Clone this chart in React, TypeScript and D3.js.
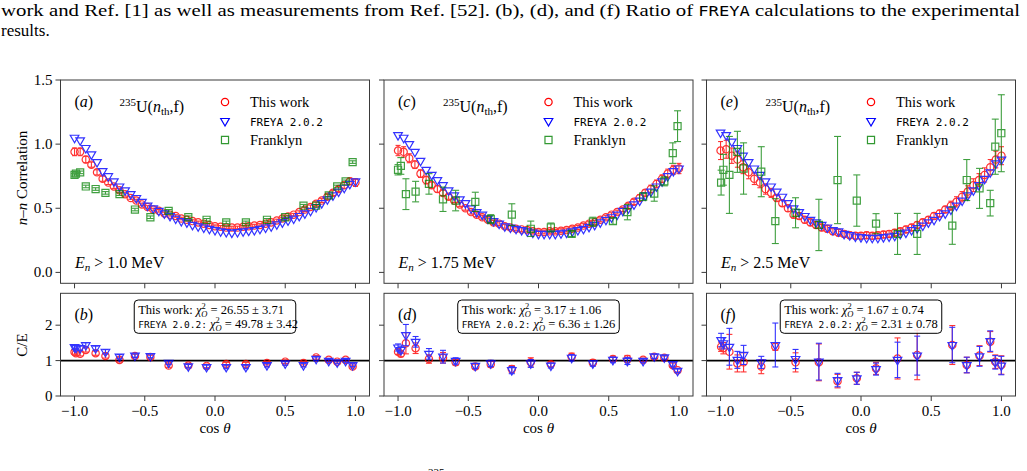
import React from 'react';
import * as d3 from 'd3';

// angular bins (cos theta) of the "This work" / FREYA points
const cosGrid = [-1.0, -0.96, -0.92, -0.88, -0.84, -0.8, -0.76, -0.72, -0.68, -0.64, -0.6, -0.56, -0.52, -0.48, -0.44, -0.4, -0.36, -0.32, -0.28, -0.24, -0.2, -0.16, -0.12, -0.08, -0.04, 0.0, 0.04, 0.08, 0.12, 0.16, 0.2, 0.24, 0.28, 0.32, 0.36, 0.4, 0.44, 0.48, 0.52, 0.56, 0.6, 0.64, 0.68, 0.72, 0.76, 0.8, 0.84, 0.88, 0.92, 0.96, 1.0];

// (a) En > 1.0 MeV
const workA = [0.94, 0.94, 0.88, 0.84, 0.78, 0.73, 0.70, 0.67, 0.64, 0.61, 0.58, 0.56, 0.53, 0.51, 0.49, 0.48, 0.46, 0.45, 0.44, 0.42, 0.41, 0.40, 0.39, 0.38, 0.37, 0.36, 0.355, 0.35, 0.35, 0.35, 0.355, 0.36, 0.365, 0.37, 0.38, 0.39, 0.405, 0.42, 0.435, 0.45, 0.47, 0.49, 0.51, 0.535, 0.56, 0.59, 0.62, 0.65, 0.68, 0.71, 0.70];
const workErrA = [0.03, 0.03, 0.025, 0.02, 0.02, 0.02, 0.015, 0.015, 0.015, 0.015, 0.01, 0.01, 0.01, 0.01, 0.01, 0.01, 0.01, 0.01, 0.01, 0.01, 0.01, 0.01, 0.01, 0.01, 0.01, 0.01, 0.01, 0.01, 0.01, 0.01, 0.01, 0.01, 0.01, 0.01, 0.01, 0.01, 0.01, 0.01, 0.01, 0.01, 0.01, 0.015, 0.015, 0.015, 0.015, 0.02, 0.02, 0.02, 0.025, 0.025, 0.03];
const freyaA = [1.05, 1.03, 0.97, 0.92, 0.86, 0.79, 0.75, 0.71, 0.67, 0.64, 0.61, 0.58, 0.55, 0.52, 0.50, 0.48, 0.46, 0.44, 0.42, 0.40, 0.39, 0.37, 0.36, 0.35, 0.34, 0.33, 0.32, 0.315, 0.31, 0.315, 0.32, 0.325, 0.33, 0.34, 0.35, 0.36, 0.375, 0.39, 0.405, 0.42, 0.44, 0.46, 0.48, 0.51, 0.54, 0.57, 0.60, 0.63, 0.66, 0.69, 0.71];
const franklynCosA = [-1.0, -0.99, -0.96, -0.92, -0.85, -0.78, -0.68, -0.57, -0.46, -0.33, -0.19, -0.06, 0.08, 0.22, 0.37, 0.5, 0.63, 0.72, 0.81, 0.87, 0.93, 0.98];
const franklynA = [0.76, 0.77, 0.78, 0.67, 0.65, 0.62, 0.61, 0.49, 0.43, 0.48, 0.43, 0.41, 0.39, 0.39, 0.41, 0.43, 0.52, 0.52, 0.60, 0.67, 0.71, 0.86];
const franklynErrA = [0.01, 0.01, 0.01, 0.01, 0.01, 0.01, 0.01, 0.01, 0.01, 0.01, 0.01, 0.01, 0.01, 0.01, 0.01, 0.01, 0.01, 0.01, 0.01, 0.01, 0.01, 0.01];

// (c) En > 1.75 MeV
const workC = [0.95, 0.94, 0.89, 0.84, 0.77, 0.72, 0.68, 0.65, 0.62, 0.59, 0.56, 0.53, 0.50, 0.47, 0.45, 0.43, 0.41, 0.39, 0.38, 0.36, 0.35, 0.34, 0.335, 0.33, 0.32, 0.315, 0.315, 0.32, 0.32, 0.325, 0.33, 0.34, 0.35, 0.365, 0.38, 0.39, 0.41, 0.43, 0.45, 0.47, 0.49, 0.52, 0.55, 0.58, 0.62, 0.65, 0.69, 0.73, 0.77, 0.80, 0.81];
const workErrC = [0.04, 0.04, 0.035, 0.03, 0.03, 0.03, 0.025, 0.025, 0.02, 0.02, 0.015, 0.015, 0.015, 0.015, 0.015, 0.015, 0.015, 0.015, 0.015, 0.015, 0.015, 0.015, 0.015, 0.015, 0.015, 0.015, 0.015, 0.015, 0.015, 0.015, 0.015, 0.015, 0.015, 0.015, 0.015, 0.015, 0.015, 0.015, 0.015, 0.015, 0.015, 0.02, 0.02, 0.025, 0.025, 0.03, 0.03, 0.03, 0.035, 0.035, 0.04];
const freyaC = [1.07, 1.05, 1.00, 0.94, 0.87, 0.80, 0.76, 0.72, 0.68, 0.64, 0.60, 0.57, 0.54, 0.50, 0.47, 0.45, 0.42, 0.40, 0.38, 0.36, 0.35, 0.34, 0.33, 0.32, 0.31, 0.30, 0.30, 0.30, 0.30, 0.305, 0.31, 0.32, 0.33, 0.34, 0.355, 0.37, 0.39, 0.41, 0.43, 0.45, 0.48, 0.50, 0.53, 0.56, 0.60, 0.63, 0.67, 0.71, 0.75, 0.79, 0.81];
const franklynCosC = [-1.0, -0.98, -0.944, -0.875, -0.78, -0.68, -0.59, -0.45, -0.34, -0.19, -0.055, 0.088, 0.236, 0.387, 0.53, 0.633, 0.745, 0.824, 0.896, 0.956, 0.99];
const franklynC = [0.80, 0.83, 0.61, 0.63, 0.69, 0.57, 0.56, 0.55, 0.415, 0.45, 0.34, 0.35, 0.30, 0.395, 0.40, 0.47, 0.59, 0.615, 0.71, 0.93, 1.14];
const franklynErrC = [0.04, 0.065, 0.12, 0.08, 0.08, 0.095, 0.08, 0.075, 0.035, 0.085, 0.06, 0.035, 0.02, 0.035, 0.025, 0.06, 0.03, 0.06, 0.035, 0.08, 0.12];

// (e) En > 2.5 MeV
const workE = [0.95, 0.96, 0.91, 0.88, 0.82, 0.78, 0.73, 0.70, 0.65, 0.62, 0.58, 0.54, 0.50, 0.45, 0.44, 0.41, 0.39, 0.37, 0.35, 0.34, 0.32, 0.31, 0.30, 0.29, 0.285, 0.285, 0.29, 0.285, 0.29, 0.295, 0.30, 0.31, 0.32, 0.335, 0.35, 0.37, 0.39, 0.41, 0.44, 0.46, 0.49, 0.52, 0.55, 0.59, 0.63, 0.68, 0.72, 0.76, 0.82, 0.88, 0.91];
const workErrE = [0.07, 0.07, 0.06, 0.06, 0.05, 0.05, 0.045, 0.04, 0.04, 0.035, 0.025, 0.025, 0.025, 0.025, 0.025, 0.025, 0.025, 0.025, 0.025, 0.025, 0.025, 0.025, 0.025, 0.025, 0.025, 0.025, 0.025, 0.025, 0.025, 0.025, 0.025, 0.025, 0.025, 0.025, 0.025, 0.025, 0.025, 0.025, 0.025, 0.025, 0.025, 0.035, 0.04, 0.04, 0.045, 0.05, 0.05, 0.055, 0.06, 0.065, 0.07];
const freyaE = [1.09, 1.07, 1.02, 0.97, 0.91, 0.86, 0.81, 0.76, 0.71, 0.67, 0.63, 0.59, 0.54, 0.50, 0.47, 0.44, 0.41, 0.39, 0.37, 0.35, 0.33, 0.32, 0.30, 0.29, 0.28, 0.275, 0.27, 0.27, 0.27, 0.275, 0.28, 0.285, 0.30, 0.31, 0.33, 0.345, 0.365, 0.39, 0.41, 0.44, 0.46, 0.49, 0.52, 0.56, 0.60, 0.64, 0.68, 0.73, 0.78, 0.85, 0.88];
const franklynCosE = [-0.996, -0.98, -0.937, -0.88, -0.836, -0.71, -0.61, -0.466, -0.3, -0.167, -0.03, 0.107, 0.26, 0.4, 0.65, 0.753, 0.844, 0.92, 0.956, 0.999];
const franklynE = [0.70, 0.80, 0.76, 0.94, 0.81, 0.785, 0.40, 0.465, 0.37, 0.72, 0.56, 0.38, 0.30, 0.30, 0.365, 0.72, 0.655, 0.54, 0.98, 1.085];
const franklynErrE = [0.097, 0.12, 0.30, 0.16, 0.20, 0.195, 0.175, 0.117, 0.20, 0.34, 0.20, 0.078, 0.16, 0.16, 0.146, 0.16, 0.156, 0.10, 0.215, 0.30];

// (b) ratios C/E
const ratioWorkB = [1.24, 1.21, 1.19, 1.30, 1.21, 1.13, 1.02, 1.13, 1.10, 0.86, 0.86, 0.85, 0.90, 0.90, 0.93, 0.97, 0.93, 1.09, 1.02, 0.97, 1.02, 0.83];
const ratioWorkErrB = [0.06, 0.06, 0.06, 0.06, 0.06, 0.06, 0.06, 0.05, 0.05, 0.05, 0.05, 0.05, 0.05, 0.05, 0.05, 0.05, 0.05, 0.05, 0.04, 0.04, 0.04, 0.04];
const ratioFreyaB = [1.38, 1.36, 1.35, 1.44, 1.35, 1.25, 1.11, 1.14, 1.13, 0.94, 0.84, 0.82, 0.82, 0.82, 0.87, 0.92, 0.87, 1.05, 0.99, 0.95, 0.99, 0.87];
const ratioFreyaErrB = [0.06, 0.06, 0.06, 0.06, 0.06, 0.06, 0.06, 0.05, 0.05, 0.05, 0.05, 0.05, 0.05, 0.05, 0.05, 0.05, 0.05, 0.05, 0.04, 0.04, 0.04, 0.04];

// (d)
const ratioWorkD = [1.25, 1.19, 1.49, 1.35, 1.045, 1.08, 0.95, 0.83, 0.90, 0.76, 0.95, 0.895, 1.11, 0.94, 1.045, 1.045, 1.02, 1.11, 1.08, 0.87, 0.73];
const ratioWorkErrD = [0.08, 0.08, 0.30, 0.15, 0.12, 0.15, 0.08, 0.07, 0.09, 0.10, 0.13, 0.07, 0.10, 0.08, 0.08, 0.10, 0.05, 0.06, 0.05, 0.06, 0.05];
const ratioFreyaD = [1.37, 1.30, 1.72, 1.53, 1.19, 1.11, 0.99, 0.85, 0.92, 0.73, 0.92, 0.86, 1.08, 0.92, 1.02, 0.99, 0.99, 1.12, 1.09, 0.90, 0.71];
const ratioFreyaErrD = [0.10, 0.09, 0.30, 0.15, 0.15, 0.18, 0.09, 0.07, 0.09, 0.10, 0.11, 0.07, 0.09, 0.08, 0.08, 0.10, 0.05, 0.06, 0.05, 0.06, 0.05];

// (f)
const ratioWorkF = [1.39, 1.35, 1.25, 0.92, 0.95, 0.83, 1.39, 0.95, 0.95, 0.42, 0.50, 0.78, 1.06, 1.16, 1.44, 0.875, 1.14, 1.53, 0.97, 0.875];
const ratioWorkErrF = [0.13, 0.16, 0.49, 0.24, 0.27, 0.20, 0.10, 0.27, 0.52, 0.19, 0.17, 0.17, 0.58, 0.70, 0.55, 0.22, 0.28, 0.29, 0.19, 0.26];
const ratioFreyaF = [1.58, 1.49, 1.39, 1.02, 1.16, 0.95, 1.44, 1.045, 0.97, 0.45, 0.50, 0.76, 1.02, 1.14, 1.44, 0.875, 1.12, 1.55, 0.95, 0.86];
const ratioFreyaErrF = [0.19, 0.16, 0.52, 0.24, 0.27, 0.17, 0.62, 0.27, 0.52, 0.19, 0.17, 0.17, 0.50, 0.55, 0.50, 0.22, 0.28, 0.29, 0.19, 0.26];

const panelTags = [['a', 'b'], ['c', 'd'], ['e', 'f']];
const energyCuts = ['1.0', '1.75', '2.5'];
const chiWork = ['26.55 \u00b1 3.71', '3.17 \u00b1 1.06', '1.67 \u00b1 0.74'];
const chiFreya = ['49.78 \u00b1 3.42', '6.36 \u00b1 1.26', '2.31 \u00b1 0.78'];
const xTicks = [-1, -0.5, 0, 0.5, 1];
const topTicks = [0, 0.5, 1, 1.5];
const botTicks = [0, 1, 2];

const SERIF = "'Liberation Serif', 'Times New Roman', serif";
const MONO = "'DejaVu Sans Mono', 'Liberation Mono', monospace";
const RED = '#ff0000';
const BLUE = '#0000ff';
const GREEN = '#008000';
const SPINE = '#3a3a3a';

const panelLefts = [60.5, 384, 706.5];
const panelW = 309;

const circlePath = d3.symbol().type(d3.symbolCircle).size(42)();
const triPath = d3.symbol().type(d3.symbolTriangle).size(32)();
const squarePath = d3.symbol().type(d3.symbolSquare).size(50)();

const panels = [
  { work: workA, workErr: workErrA, freya: freyaA, fCos: franklynCosA, fVal: franklynA, fErr: franklynErrA, rWork: ratioWorkB, rWorkErr: ratioWorkErrB, rFreya: ratioFreyaB, rFreyaErr: ratioFreyaErrB },
  { work: workC, workErr: workErrC, freya: freyaC, fCos: franklynCosC, fVal: franklynC, fErr: franklynErrC, rWork: ratioWorkD, rWorkErr: ratioWorkErrD, rFreya: ratioFreyaD, rFreyaErr: ratioFreyaErrD },
  { work: workE, workErr: workErrE, freya: freyaE, fCos: franklynCosE, fVal: franklynE, fErr: franklynErrE, rWork: ratioWorkF, rWorkErr: ratioWorkErrF, rFreya: ratioFreyaF, rFreyaErr: ratioFreyaErrF },
];

function Marker({ kind, x, y, color }) {
  const d = kind === 'o' ? circlePath : kind === 'v' ? triPath : squarePath;
  const rot = kind === 'v' ? ' rotate(180)' : '';
  return <path d={d} transform={`translate(${x},${y})${rot}`} fill="none" stroke={color} strokeWidth={1.2} />;
}

function ErrBar({ x, y0, y1, color, cap = 3 }) {
  return (
    <g stroke={color} strokeWidth={1.1}>
      <line x1={x} x2={x} y1={y0} y2={y1} />
      <line x1={x - cap} x2={x + cap} y1={y0} y2={y0} />
      <line x1={x - cap} x2={x + cap} y1={y1} y2={y1} />
    </g>
  );
}

function ChiLine({ x, y, label, mono, value }) {
  return (
    <text x={x} y={y} fontFamily={SERIF} fontSize={12.5}>
      {mono ? <tspan fontFamily={MONO} fontSize={9.5}>{label}</tspan> : <tspan>{label}</tspan>}
      <tspan> </tspan>
      <tspan fontStyle="italic">{'\u03c7'}</tspan>
      <tspan fontSize={8.5} dy={-5}>2</tspan>
      <tspan fontSize={8.5} fontStyle="italic" dx={-4.3} dy={8.5}>O</tspan>
      <tspan dy={-3.5}>{' = ' + value}</tspan>
    </text>
  );
}

function Panel({ idx }) {
  const p = panels[idx];
  const left = panelLefts[idx];
  const first = idx === 0;
  const x = d3.scaleLinear().domain([-1.1, 1.1]).range([left, left + panelW]);
  const yT = d3.scaleLinear().domain([-0.085, 1.5]).range([283.3, 80]);
  const yB = d3.scaleLinear().domain([0, 2.9]).range([396, 293.3]);
  const [tTop, tBot] = panelTags[idx];
  const clipT = `clipT${idx}`;
  const clipB = `clipB${idx}`;

  return (
    <g>
      <defs>
        <clipPath id={clipT}><rect x={left} y={80} width={panelW} height={203.3} /></clipPath>
        <clipPath id={clipB}><rect x={left} y={293.3} width={panelW} height={102.7} /></clipPath>
      </defs>

      {/* upper panel: n-n correlation */}
      <g clipPath={`url(#${clipT})`}>
        <g opacity={0.8}>
          {cosGrid.map((c, i) => (
            <ErrBar key={'re' + i} x={x(c)} y0={yT(p.work[i] - p.workErr[i])} y1={yT(p.work[i] + p.workErr[i])} color={RED} cap={2.5} />
          ))}
          {cosGrid.map((c, i) => <Marker key={'r' + i} kind="o" x={x(c)} y={yT(p.work[i])} color={RED} />)}
          {cosGrid.map((c, i) => <Marker key={'b' + i} kind="v" x={x(c)} y={yT(p.freya[i])} color={BLUE} />)}
        </g>
        <g opacity={0.75}>
          {p.fCos.map((c, i) => (
            <ErrBar key={'ge' + i} x={x(c)} y0={yT(p.fVal[i] - p.fErr[i])} y1={yT(p.fVal[i] + p.fErr[i])} color={GREEN} cap={3.5} />
          ))}
          {p.fCos.map((c, i) => <Marker key={'g' + i} kind="s" x={x(c)} y={yT(p.fVal[i])} color={GREEN} />)}
        </g>
      </g>

      {/* legend */}
      <g>
        <Marker kind="o" x={left + 164.5} y={102} color={RED} />
        <Marker kind="v" x={left + 164.5} y={121} color={BLUE} />
        <g opacity={0.8}><Marker kind="s" x={left + 164.5} y={140} color={GREEN} /></g>
        <text x={left + 189.5} y={107} fontFamily={SERIF} fontSize={14.5}>This work</text>
        <text x={left + 189.5} y={125.5} fontFamily={MONO} fontSize={11}>FREYA 2.0.2</text>
        <text x={left + 189.5} y={145} fontFamily={SERIF} fontSize={14.5}>Franklyn</text>
      </g>

      <text x={left + 14} y={107} fontFamily={SERIF} fontSize={16}>(<tspan fontStyle="italic">{tTop}</tspan>)</text>
      <text x={left + 59} y={112} fontFamily={SERIF} fontSize={16}>
        <tspan fontSize={11} dy={-6}>235</tspan>
        <tspan dy={6}>U(</tspan>
        <tspan fontStyle="italic">n</tspan>
        <tspan fontSize={11} dy={3}>th</tspan>
        <tspan dy={-3}>,f)</tspan>
      </text>
      <text x={left + 14.5} y={268} fontFamily={SERIF} fontSize={16}>
        <tspan fontStyle="italic">E</tspan>
        <tspan fontStyle="italic" fontSize={11} dy={3}>n</tspan>
        <tspan dy={-3}>{' > ' + energyCuts[idx] + ' MeV'}</tspan>
      </text>

      <rect x={left} y={80} width={panelW} height={203.3} fill="none" stroke={SPINE} strokeWidth={1} />
      {xTicks.map(t => <line key={'xt' + t} x1={x(t)} x2={x(t)} y1={283.3} y2={288.3} stroke={SPINE} />)}
      {topTicks.map(t => (
        <g key={'yt' + t}>
          <line x1={left - 5} x2={left} y1={yT(t)} y2={yT(t)} stroke={SPINE} />
          {first && <text x={left - 8} y={yT(t) + 5} textAnchor="end" fontFamily={SERIF} fontSize={15}>{t.toFixed(1)}</text>}
        </g>
      ))}

      {/* lower panel: ratio C/E */}
      <line x1={left} x2={left + panelW} y1={yB(1)} y2={yB(1)} stroke="#000" strokeWidth={1.6} />
      <g clipPath={`url(#${clipB})`}>
        <g opacity={0.8}>
          {p.fCos.map((c, i) => (
            <ErrBar key={'rre' + i} x={x(c)} y0={yB(p.rWork[i] - p.rWorkErr[i])} y1={yB(p.rWork[i] + p.rWorkErr[i])} color={RED} />
          ))}
          {p.fCos.map((c, i) => <Marker key={'rr' + i} kind="o" x={x(c)} y={yB(p.rWork[i])} color={RED} />)}
          {p.fCos.map((c, i) => (
            <ErrBar key={'rbe' + i} x={x(c)} y0={yB(p.rFreya[i] - p.rFreyaErr[i])} y1={yB(p.rFreya[i] + p.rFreyaErr[i])} color={BLUE} />
          ))}
          {p.fCos.map((c, i) => <Marker key={'rb' + i} kind="v" x={x(c)} y={yB(p.rFreya[i])} color={BLUE} />)}
        </g>
      </g>

      <text x={left + 14} y={320} fontFamily={SERIF} fontSize={16}>(<tspan fontStyle="italic">{tBot}</tspan>)</text>
      <rect x={x(-0.575)} y={300} width={x(0.575) - x(-0.575)} height={33.3} rx={4} fill="#fff" fillOpacity={0.85} stroke="#000" strokeWidth={1} />
      <ChiLine x={x(-0.575) + 4} y={313.5} label="This work:" mono={false} value={chiWork[idx]} />
      <ChiLine x={x(-0.575) + 4} y={327.5} label="FREYA 2.0.2:" mono={true} value={chiFreya[idx]} />

      <rect x={left} y={293.3} width={panelW} height={102.7} fill="none" stroke={SPINE} strokeWidth={1} />
      {xTicks.map(t => (
        <g key={'bx' + t}>
          <line x1={x(t)} x2={x(t)} y1={396} y2={401} stroke={SPINE} />
          <text x={x(t)} y={416} textAnchor="middle" fontFamily={SERIF} fontSize={15}>{(t < 0 ? '\u2212' : '') + Math.abs(t).toFixed(1)}</text>
        </g>
      ))}
      {botTicks.map(t => (
        <g key={'by' + t}>
          <line x1={left - 5} x2={left} y1={yB(t)} y2={yB(t)} stroke={SPINE} />
          {first && <text x={left - 8} y={yB(t) + 5} textAnchor="end" fontFamily={SERIF} fontSize={15}>{t}</text>}
        </g>
      ))}
      <text x={x(0)} y={433} textAnchor="middle" fontFamily={SERIF} fontSize={15}>cos <tspan fontStyle="italic">{'\u03b8'}</tspan></text>
    </g>
  );
}

export default function App() {
  return (
    <svg width={1027} height={471} style={{ position: 'absolute', left: 0, top: 0, background: '#fff' }}>
      <rect x={0} y={0} width={1027} height={471} fill="#fff" />
      <text x={1} y={16} fontFamily={SERIF} fontSize={17} textLength={1019} lengthAdjust="spacingAndGlyphs">
        work and Ref. [1] as well as measurements from Ref. [52].  (b), (d), and (f) Ratio of <tspan fontFamily={MONO} fontSize={14}>FREYA</tspan> calculations to the experimental
      </text>
      <text x={1} y={36} fontFamily={SERIF} fontSize={17}>results.</text>

      {[0, 1, 2].map(i => <Panel key={i} idx={i} />)}

      <text transform="translate(27,178) rotate(-90)" textAnchor="middle" fontFamily={SERIF} fontSize={15}>
        <tspan fontStyle="italic">n</tspan>{'\u2013'}<tspan fontStyle="italic">n</tspan> Correlation
      </text>
      <text transform="translate(27,345) rotate(-90)" textAnchor="middle" fontFamily={SERIF} fontSize={15}>C/E</text>

      <text x={428} y={476} fontFamily={SERIF} fontSize={11}>235</text>
    </svg>
  );
}
